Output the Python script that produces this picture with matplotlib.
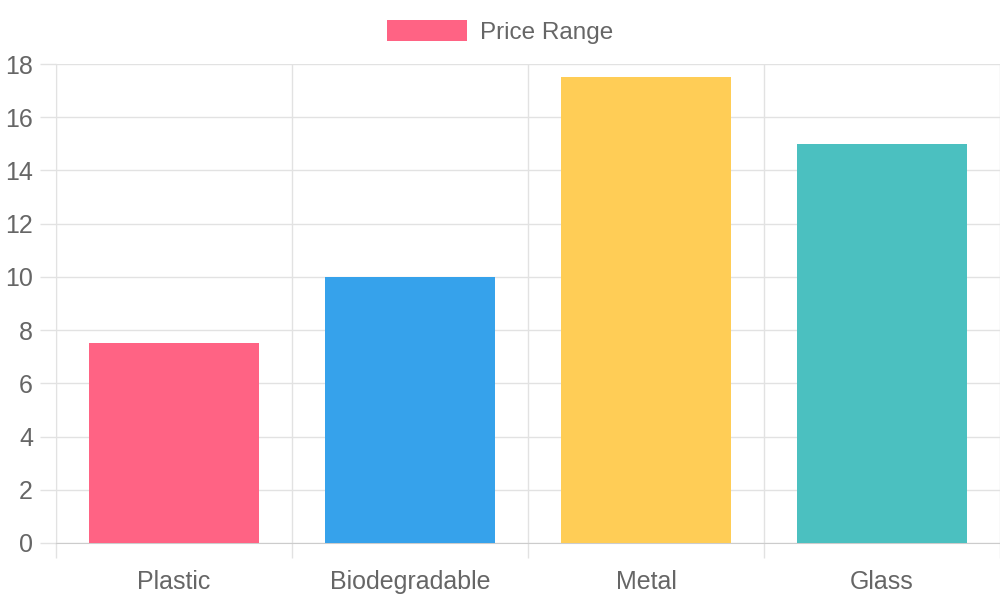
import matplotlib
matplotlib.use("Agg")
import matplotlib.pyplot as plt
from matplotlib.patches import Patch
import numpy as np

categories = ["Plastic", "Biodegradable", "Metal", "Glass"]
values = [7.5, 10, 17.5, 15]
colors = ["#FF6384", "#36A2EB", "#FFCD56", "#4BC0C0"]
series_label = "Price Range"
yticks = [0, 2, 4, 6, 8, 10, 12, 14, 16, 18]

plt.rcParams['font.family'] = ['Liberation Sans', 'DejaVu Sans']
text_color = "#666666"
grid_color = "#e2e2e2"

fig = plt.figure(figsize=(10, 6), dpi=100)
ax = fig.add_axes([0.056, 1 - 543/600, 0.944, (543 - 64)/600])

x = np.arange(len(categories))
ax.bar(x, values, width=0.72, color=colors, zorder=3)

ax.set_xlim(-0.5, len(categories) - 0.5)
ax.set_ylim(0, 18)

# y axis
ax.set_yticks(yticks)
ax.set_yticklabels([str(t) for t in yticks])
ax.tick_params(axis='y', length=11.5, width=1, color=grid_color, labelsize=18,
               labelcolor=text_color, pad=5)
ax.yaxis.grid(True, color=grid_color, linewidth=1, zorder=0)

# x axis: labels at centers, grid at boundaries
ax.set_xticks(x)
ax.set_xticklabels(categories)
ax.set_xticks(np.arange(len(categories) + 1) - 0.5, minor=True)
ax.tick_params(axis='x', which='major', length=0, labelsize=18,
               labelcolor=text_color, pad=19.5)
ax.tick_params(axis='x', which='minor', length=10.8, width=1, color=grid_color)
ax.xaxis.grid(True, which='minor', color=grid_color, linewidth=1, zorder=0)
ax.xaxis.grid(False, which='major')
ax.set_axisbelow(True)

for s in ['top', 'right']:
    ax.spines[s].set_visible(False)
ax.spines['left'].set_color(grid_color)
ax.spines['bottom'].set_color("#cccccc")

handle = Patch(facecolor=colors[0], edgecolor='none', label=series_label)
fig.legend(handles=[handle], loc='center', bbox_to_anchor=(0.5, 1 - 32/600),
           frameon=False, fontsize=17.5, labelcolor=text_color,
           handlelength=3.3, handleheight=0.95, handletextpad=0.5)

fig.savefig("out.png", dpi=100)
